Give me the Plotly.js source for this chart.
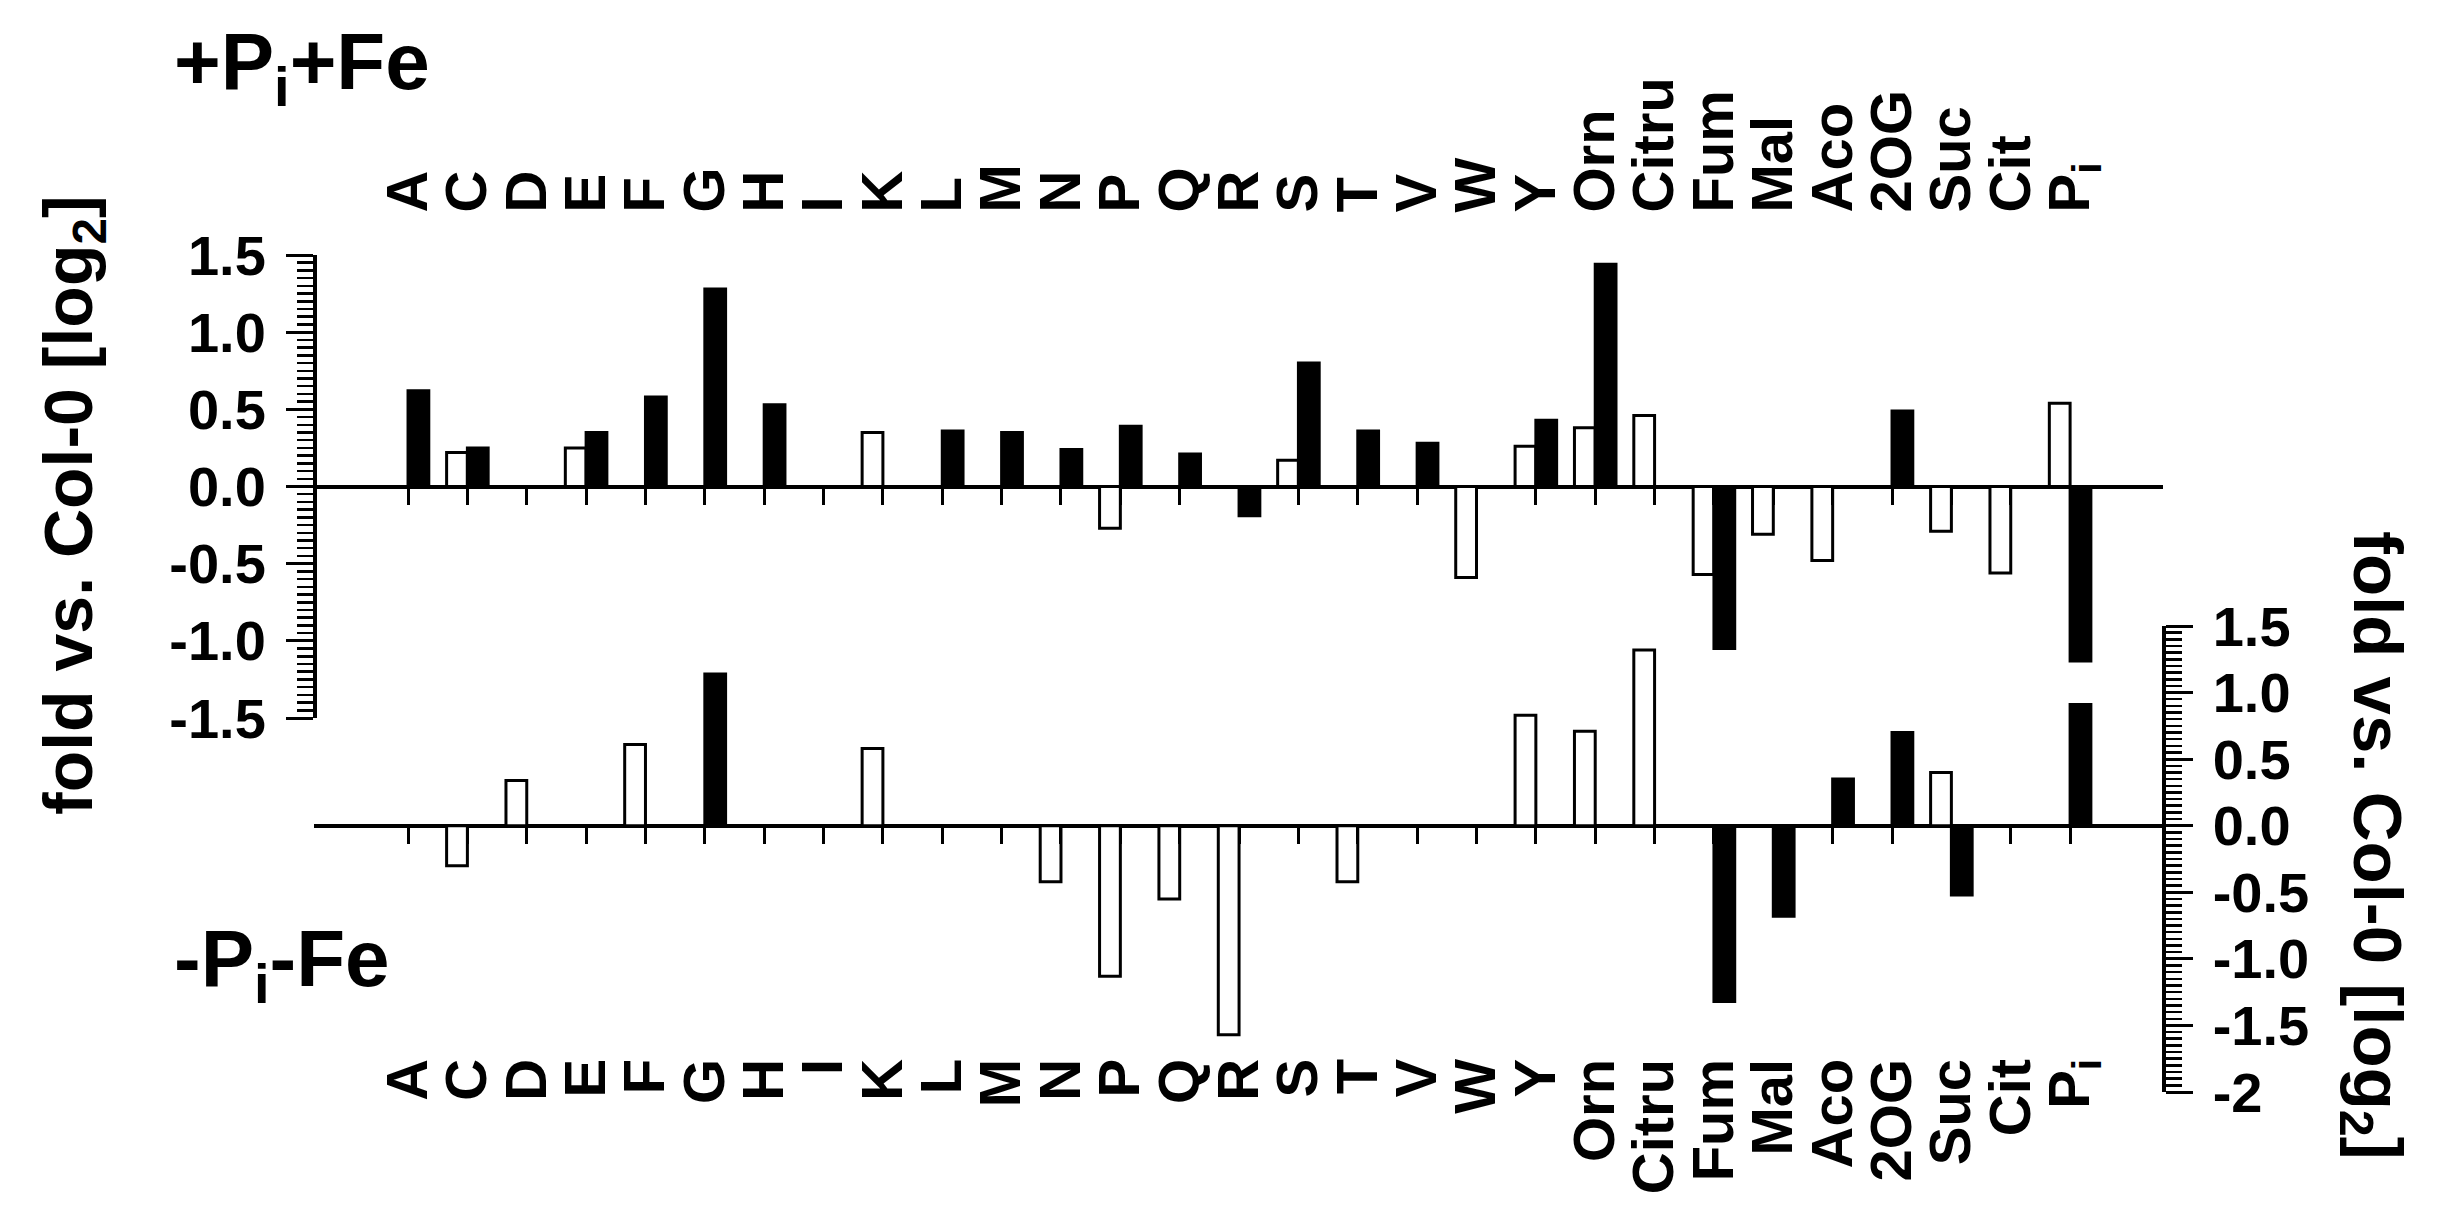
<!DOCTYPE html>
<html>
<head>
<meta charset="utf-8">
<script src="https://cdn.plot.ly/plotly-3.0.1.min.js"></script>
<style>
  body { margin: 0; background: #fff; }
  #graphDiv { width: 2451px; height: 1219px; }
</style>
</head>
<body>
<div id="graphDiv"></div>
<script>
// categorias (aminoacidos, organicos, Pi)
let categorias = ["A", "C", "D", "E", "F", "G", "H", "I", "K", "L", "M", "N", "P", "Q", "R", "S", "T", "V", "W", "Y",
    "Orn", "Citru", "Fum", "Mal", "Aco", "2OG", "Suc", "Cit", "Pi"];
let etiquetas = ["A", "C", "D", "E", "F", "G", "H", "I", "K", "L", "M", "N", "P", "Q", "R", "S", "T", "V", "W", "Y",
    "Orn", "Citru", "Fum", "Mal", "Aco", "2OG", "Suc", "Cit", "P<sub>i</sub>"];

// +Pi+Fe (panel de arriba)
let arribaBlanco = [null, 0.22, null, 0.25, null, null, null, null, 0.35, null, null, null, -0.27, null, null, 0.17, null, null, -0.59, 0.26,
    0.38, 0.46, -0.57, -0.31, -0.48, null, -0.29, -0.56, 0.54];
let arribaNegro = [0.62, 0.25, null, 0.35, 0.58, 1.28, 0.53, null, null, 0.36, 0.35, 0.24, 0.39, 0.21, -0.19, 0.80, 0.36, 0.28, null, 0.43,
    1.44, null, -1.05, null, null, 0.49, null, null, -1.13];

// -Pi-Fe (panel de abajo)
let abajoBlanco = [null, -0.30, 0.34, null, 0.61, null, null, null, 0.58, null, null, -0.42, -1.13, -0.55, -1.57, null, -0.42, null, null, 0.83,
    0.71, 1.32, null, null, null, null, 0.40, null, null];
let abajoNegro = [null, null, null, null, null, 1.14, null, null, null, null, null, null, null, null, null, null, null, null, null, null,
    null, null, -1.32, -0.68, 0.35, 0.70, -0.52, null, 0.91];

// ejes y
let ticksArriba = [1.5, 1.0, 0.5, 0.0, -0.5, -1.0, -1.5];
let textoTicksArriba = ["1.5", "1.0", "0.5", "0.0", "-0.5", "-1.0", "-1.5"];
let ticksAbajo = [1.5, 1.0, 0.5, 0.0, -0.5, -1.0, -1.5, -2];
let textoTicksAbajo = ["1.5", "1.0", "0.5", "0.0", "-0.5", "-1.0", "-1.5", "-2"];

let W = 2451, H = 1219;
let fuente = "Liberation Sans, Arial, sans-serif";

// posiciones en pixeles -> papel
let xDom = [314 / W, 2163 / W];
let yDom1 = [1 - 718 / H, 1 - 255 / H];
let yDom2 = [1 - 1092 / H, 1 - 626 / H];
let rango1 = [-1.5, 1.5];
let rango2 = [-2, 1.5];
let rangoX = [-1.584, 29.565];

function ceroPapel(dom, rango) {
    return dom[0] + (0 - rango[0]) / (rango[1] - rango[0]) * (dom[1] - dom[0]);
}

function barra(y, relleno, ejeX, ejeY) {
    return {
        type: "bar",
        x: categorias,
        y: y,
        xaxis: ejeX,
        yaxis: ejeY,
        marker: { color: relleno, line: { color: "black", width: 3 } },
        hoverinfo: "x+y"
    };
}

let data = [
    barra(arribaBlanco, "white", "x", "y"),
    barra(arribaNegro, "black", "x", "y"),
    barra(abajoBlanco, "white", "x2", "y2"),
    barra(abajoNegro, "black", "x2", "y2")
];

let fuenteCat = { family: fuente, size: 58, color: "black", weight: "bold" };

let ejeYbase = {
    showline: true, linewidth: 3.5, linecolor: "black",
    ticks: "outside", ticklen: 27, tickwidth: 3, tickcolor: "black",
    showgrid: false, zeroline: true, zerolinecolor: "black", zerolinewidth: 4,
    tickfont: { family: fuente, size: 56, color: "black", weight: "bold" },
    tickmode: "array", ticklabelstandoff: 9,
    minor: { dtick: 0.05, tick0: 0, ticks: "outside", ticklen: 16, tickwidth: 2.5, tickcolor: "black", showgrid: false },
    fixedrange: true
};

let layout = {
    width: W, height: H,
    margin: { l: 0, r: 0, t: 0, b: 0 },
    paper_bgcolor: "white", plot_bgcolor: "rgba(0,0,0,0)",
    showlegend: false,
    barmode: "group", bargap: 0.3, bargroupgap: 0,
    // eje de arriba: marcas hacia abajo en el cero, etiquetas arriba del panel
    xaxis: {
        domain: xDom, range: rangoX, type: "category", categoryarray: categorias,
        anchor: "free", position: ceroPapel(yDom1, rango1), side: "top",
        ticks: "inside", ticklen: 17, tickwidth: 3, tickcolor: "black",
        tickmode: "array", tickvals: categorias, ticktext: etiquetas, tickangle: -90,
        ticklabelstandoff: 274, tickfont: fuenteCat,
        showline: false, showgrid: false, zeroline: false, fixedrange: true
    },
    // eje de abajo
    xaxis2: {
        domain: xDom, range: rangoX, type: "category", categoryarray: categorias, matches: "x",
        anchor: "free", position: ceroPapel(yDom2, rango2), side: "bottom",
        ticks: "outside", ticklen: 17, tickwidth: 3, tickcolor: "black",
        tickmode: "array", tickvals: categorias, ticktext: etiquetas, tickangle: -90,
        ticklabelstandoff: 192, tickfont: fuenteCat,
        showline: false, showgrid: false, zeroline: false, fixedrange: true
    },
    yaxis: Object.assign({}, ejeYbase, {
        domain: yDom1, range: rango1, anchor: "free", position: xDom[0], side: "left",
        tickvals: ticksArriba, ticktext: textoTicksArriba
    }),
    yaxis2: Object.assign({}, ejeYbase, {
        domain: yDom2, range: rango2, anchor: "free", position: xDom[1], side: "right",
        tickvals: ticksAbajo, ticktext: textoTicksAbajo
    }),
    annotations: [
        {
            text: "fold vs. Col-0 [log<sub>2</sub>]", textangle: -90, showarrow: false,
            xref: "paper", yref: "paper", x: 73 / W, y: 1 - 505 / H, xanchor: "center", yanchor: "middle",
            font: { family: fuente, size: 68, color: "black", weight: "bold" }
        },
        {
            text: "fold vs. Col-0 [log<sub>2</sub>]", textangle: 90, showarrow: false,
            xref: "paper", yref: "paper", x: 2373 / W, y: 1 - 845 / H, xanchor: "center", yanchor: "middle",
            font: { family: fuente, size: 69, color: "black", weight: "bold" }
        },
        {
            text: "+P<sub>i</sub>+Fe", showarrow: false,
            xref: "paper", yref: "paper", x: 172 / W, y: 1 - 68 / H, xanchor: "left", yanchor: "middle",
            font: { family: fuente, size: 80, color: "black", weight: "bold" }
        },
        {
            text: "-P<sub>i</sub>-Fe", showarrow: false,
            xref: "paper", yref: "paper", x: 172 / W, y: 1 - 964 / H, xanchor: "left", yanchor: "middle",
            font: { family: fuente, size: 80, color: "black", weight: "bold" }
        }
    ]
};

Plotly.newPlot("graphDiv", data, layout, { displayModeBar: false, staticPlot: true });
</script>
</body>
</html>
